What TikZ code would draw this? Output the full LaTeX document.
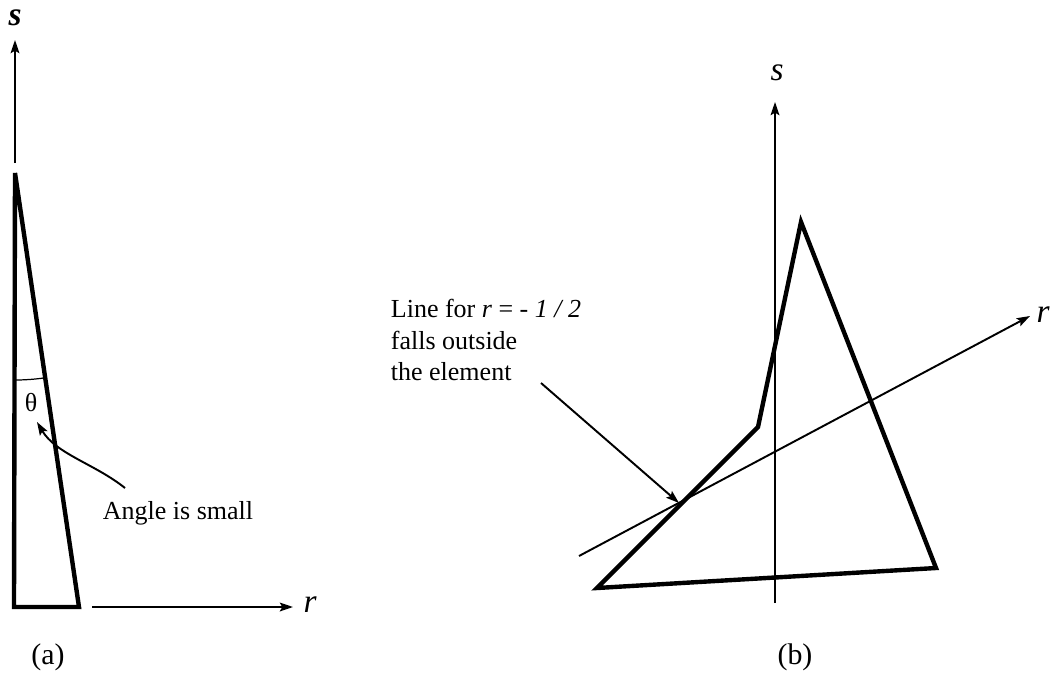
\documentclass[tikz,border=0pt]{standalone}
\usepackage{fontspec}
\setmainfont{Liberation Serif}
\usetikzlibrary{arrows.meta, positioning}
\tikzset{
  % picture is laid out in pixel units of the original figure
  every picture/.append style = {line width=1pt, >={Stealth[length=7.5pt, width=5pt, inset=1.4pt]}},
  axisline/.style = {->, line width=1.1pt, black},
  ptr/.style      = {->, line width=1.1pt},
  edge/.style     = {line width=2.5pt, line join=miter},
  anglearc/.style = {line width=0.7pt},
  lbl/.style      = {font=\fontsize{14.8}{18.1}\selectfont, inner sep=0pt},
  caplbl/.style   = {font=\fontsize{17}{20}\selectfont, inner sep=0pt},
  axlbl/.style    = {font=\fontsize{19}{20}\selectfont\itshape, inner sep=0pt},
}

\begin{document}
\begin{tikzpicture}[x=0.02cm, y=-0.02cm]
\useasboundingbox (0,0) rectangle (1054,679);

% ---- (a): thin element, small angle -----------------------------------
\coordinate (aTop) at (15,173);
\coordinate (aBL)  at (14,607);
\coordinate (aBR)  at (79,607);
\draw[edge] (aTop) -- (aBL) -- (aBR) -- cycle;

\node[axlbl, font=\fontsize{19}{20}\selectfont\bfseries\itshape] (sA) at (15,18) {s};
\coordinate (sAfoot) at (15,163);
\coordinate (sAhead) at (15,40);
\draw[axisline] (sAfoot) -- (sAhead);

\node[axlbl] (rA) at (310,605) {r};
\coordinate (rAfoot) at (92,607);
\coordinate (rAhead) at (293,607);
\draw[axisline] (rAfoot) -- (rAhead);

\draw[anglearc] (15,380) arc[start angle=90, end angle=81.6, radius=207];
\node[lbl] (thetaLbl) at (31,403) {θ};

\node[lbl] (angleTxt) at (178,513) {Angle is small};
\coordinate (angleTail) at (125,488);
\coordinate (angleTip)  at (37,422);
\draw[ptr] (angleTail) .. controls (95,464) and (56,454) .. (angleTip);

\node[caplbl] (capA) at (48,657) {(a)};

% ---- (b): distorted element, r-line leaves it --------------------------
\coordinate (bBL)   at (597,588);
\coordinate (bKink) at (758,427);
\coordinate (bTop)  at (801,222);
\coordinate (bBR)   at (936,568);
\draw[edge] (bBL) -- (bKink) -- (bTop) -- (bBR) -- cycle;

\node[axlbl] (sB) at (777,73) {s};
\coordinate (sBfoot) at (775,603);
\coordinate (sBhead) at (775,102);
\draw[axisline] (sBfoot) -- (sBhead);

\node[axlbl] (rB) at (1043,315) {r};
\coordinate (rBfoot) at (579,556);
\coordinate (rBhead) at (1030,316);
\draw[axisline] (rBfoot) -- (rBhead);

\node[lbl, anchor=west, align=left] (note) at (390,340)
  {Line for \textit{r} = - \textit{1 / 2}\\falls outside\\the element};
\coordinate (noteTail) at (541,383);
\coordinate (cut)      at (679,503);
\draw[ptr] (noteTail) -- (cut);

\node[caplbl] (capB) at (795,657) {(b)};
\end{tikzpicture}
\end{document}
